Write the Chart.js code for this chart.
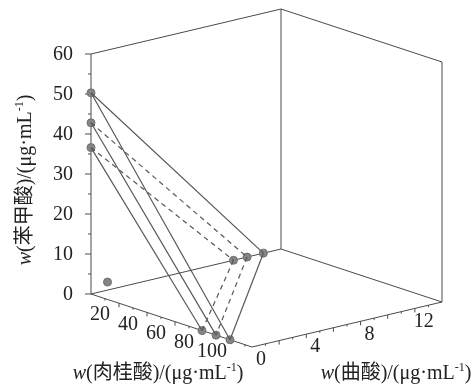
<!DOCTYPE html>
<html>
<head>
	<meta charset="utf-8">
	<title>w 3D plot</title>
	<style>
		body {margin: 0; background: #fff;}
		#wrap {width: 476px; height: 385px;}
	</style>
</head>
<body>
<div id="wrap"><canvas id="myChart" width="476" height="385"></canvas></div>

<script src="https://cdn.jsdelivr.net/npm/chart.js@4"></script>
<script>

// values: each triangle = one drug alone on each axis
var benzoicAlone  = [50.3, 42.8, 36.6];   // w(苯甲酸)
var cinnamicAlone = [99.3, 89.3, 79.3];   // w(肉桂酸)
var kojicAlone    = [12.7, 11.5, 10.5];   // w(曲酸)
// the single combined point near the corner
var comboCinnamic = [5];
var comboKojic    = [0.7];
var comboBenzoic  = [3];

// axis ranges and tick labels
var cinnamicMax = 115, kojicMax = 14, benzoicMax = 60;
var benzoicTicks  = [0, 10, 20, 30, 40, 50, 60];
var cinnamicTicks = [20, 40, 60, 80, 100];
var kojicTicks    = [0, 4, 8, 12];

// simple oblique projection (c, k, b) -> plane units
function proj(c, k, b) {
	return {
		x: c / cinnamicMax * 161 + k / kojicMax * 190,
		y: -c / cinnamicMax * 53 + k / kojicMax * 45 + b / benzoicMax * 240
	};
}

var lineColor = '#585858';
var datasets = [];
for (var i = 0; i < benzoicAlone.length; i++) {
	var pb = proj(0, 0, benzoicAlone[i]);
	var pc = proj(cinnamicAlone[i], 0, 0);
	var pk = proj(0, kojicAlone[i], 0);
	var dash = i == 0 ? [] : [5, 4];
	// benzoic -> cinnamic always visible
	datasets.push({data: [pb, pc], showLine: true, borderColor: lineColor, borderWidth: 1.2, pointRadius: 0});
	datasets.push({data: [pb, pk], showLine: true, borderColor: lineColor, borderWidth: 1.2, borderDash: dash, pointRadius: 0});
	datasets.push({data: [pk, pc], showLine: true, borderColor: lineColor, borderWidth: 1.2, borderDash: dash, pointRadius: 0});
}

var pts = [];
for (var i = 0; i < benzoicAlone.length; i++) {
	pts.push(proj(0, 0, benzoicAlone[i]));
	pts.push(proj(cinnamicAlone[i], 0, 0));
	pts.push(proj(0, kojicAlone[i], 0));
}
for (var i = 0; i < comboCinnamic.length; i++) {
	pts.push(proj(comboCinnamic[i], comboKojic[i], comboBenzoic[i]));
}
datasets.push({data: pts, showLine: false, pointRadius: 4, pointBackgroundColor: '#858585', pointBorderColor: '#707070', pointBorderWidth: 1});

// draw text with italic w and superscript -1
function richText(ctx, parts, x, y, align) {
	var total = 0;
	for (var i = 0; i < parts.length; i++) {
		ctx.font = parts[i].f;
		total += ctx.measureText(parts[i].t).width;
	}
	var cx = align == 'center' ? x - total / 2 : x;
	ctx.textAlign = 'left';
	ctx.textBaseline = 'middle';
	for (var i = 0; i < parts.length; i++) {
		ctx.font = parts[i].f;
		ctx.fillText(parts[i].t, cx, y + (parts[i].dy || 0));
		cx += ctx.measureText(parts[i].t).width;
	}
}

var serif = '"Liberation Serif", "Noto Sans CJK SC", serif';
function title(name) {
	return [
		{t: 'w', f: 'italic 20px ' + serif},
		{t: '(' + name + ')/(μg·mL', f: '20px ' + serif},
		{t: '-1', f: '12px ' + serif, dy: -6},
		{t: ')', f: '20px ' + serif}
	];
}

var boxPlugin = {
	id: 'box3d',
	beforeDatasetsDraw: function(chart) {
		var ctx = chart.ctx;
		var sx = chart.scales.x, sy = chart.scales.y;
		function P(c, k, b) {
			var p = proj(c, k, b);
			return [sx.getPixelForValue(p.x), sy.getPixelForValue(p.y)];
		}
		function seg(a, b) {
			ctx.beginPath();
			ctx.moveTo(a[0], a[1]);
			ctx.lineTo(b[0], b[1]);
			ctx.stroke();
		}
		ctx.save();
		ctx.strokeStyle = '#4a4a4a';
		ctx.lineWidth = 1;
		var C = cinnamicMax, K = kojicMax, B = benzoicMax;
		// back walls + floor
		seg(P(0, 0, 0), P(0, 0, B));
		seg(P(0, 0, B), P(0, K, B));
		seg(P(0, K, B), P(C, K, B));
		seg(P(0, K, 0), P(0, K, B));
		seg(P(C, K, 0), P(C, K, B));
		seg(P(0, 0, 0), P(0, K, 0));
		seg(P(0, K, 0), P(C, K, 0));
		seg(P(C, K, 0), P(C, 0, 0));
		seg(P(C, 0, 0), P(0, 0, 0));

		// benzoic ticks
		for (var v = 0; v <= B; v += 5) {
			var p = P(0, 0, v);
			var len = v % 10 == 0 ? 6 : 3;
			seg([p[0] - len, p[1]], p);
		}
		// cinnamic ticks
		for (var v = 10; v < C; v += 10) {
			var p = P(v, 0, 0);
			seg(p, [p[0], p[1] + (v % 20 == 0 ? 4 : 2)]);
		}
		// kojic ticks
		for (var v = 1; v < K; v += 1) {
			var p = P(C, v, 0);
			seg(p, [p[0], p[1] + (v % 2 == 0 ? 4 : 2)]);
		}

		// tick labels
		ctx.fillStyle = '#222';
		ctx.font = '20px ' + serif;
		ctx.textBaseline = 'middle';
		ctx.textAlign = 'right';
		for (var i = 0; i < benzoicTicks.length; i++) {
			var p = P(0, 0, benzoicTicks[i]);
			ctx.fillText(String(benzoicTicks[i]), p[0] - 18, p[1] + 1);
		}
		ctx.textAlign = 'center';
		for (var i = 0; i < cinnamicTicks.length; i++) {
			var p = P(cinnamicTicks[i], 0, 0);
			ctx.fillText(String(cinnamicTicks[i]), p[0] - 19, p[1] + 12);
		}
		for (var i = 0; i < kojicTicks.length; i++) {
			var p = P(C, kojicTicks[i], 0);
			ctx.fillText(String(kojicTicks[i]), p[0] + 9, p[1] + 13);
		}

		// axis titles
		richText(ctx, title('肉桂酸'), 158, 374, 'center');
		richText(ctx, title('曲酸'), 396, 374, 'center');
		ctx.translate(26, 180);
		ctx.rotate(-Math.PI / 2);
		richText(ctx, title('苯甲酸'), 0, 0, 'center');
		ctx.restore();
	}
};

var ctx = document.getElementById('myChart').getContext('2d');
var chart = new Chart(ctx, {
	type: 'scatter',
	data: {datasets: datasets},
	options: {
		responsive: false,
		animation: false,
		layout: {padding: 0, autoPadding: false},
		plugins: {legend: {display: false}, tooltip: {enabled: false}},
		scales: {
			x: {type: 'linear', display: false, min: -91, max: 385},
			y: {type: 'linear', display: false, min: -91, max: 294}
		}
	},
	plugins: [boxPlugin]
});
</script>
</body>
</html>
